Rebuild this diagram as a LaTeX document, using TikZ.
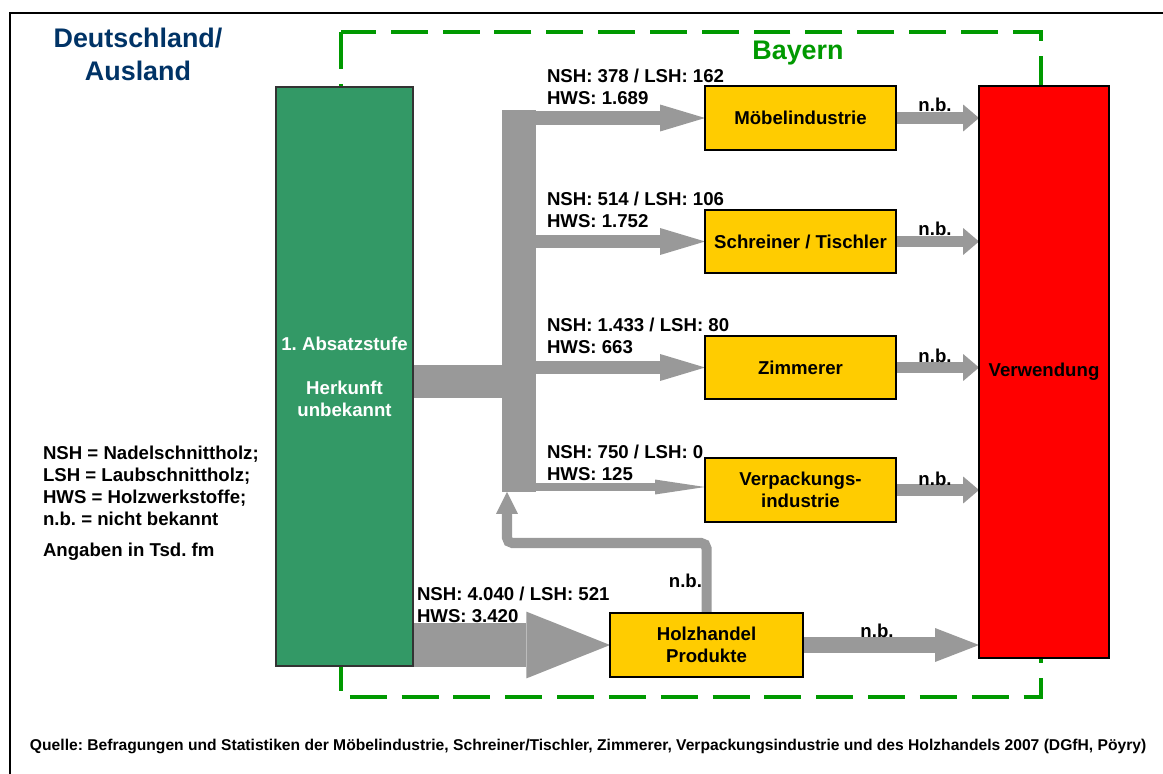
\documentclass[tikz,border=0pt]{standalone}
\usepackage{fontspec}
\setmainfont{Liberation Sans}
\usetikzlibrary{arrows.meta,calc}
\definecolor{arrowgray}{HTML}{999999}
\definecolor{boxyellow}{HTML}{FFCC00}
\definecolor{boxgreen}{HTML}{339966}
\definecolor{boxred}{HTML}{FF0000}
\definecolor{dashgreen}{HTML}{009900}
\definecolor{titlenavy}{HTML}{003366}
\pgfdeclarelayer{back}
\pgfsetlayers{back,main}
\tikzset{
  every node/.style={inner sep=0pt, outer sep=0pt},
  lbl/.style={font=\bfseries\fontsize{10.6}{12.5}\selectfont, align=left, text=black},
  box/.style={draw=black, line width=0.9pt, inner sep=0pt, align=center,
              font=\bfseries\fontsize{10.6}{12.5}\selectfont},
  ybox/.style={box, fill=boxyellow, minimum width=3.82cm, minimum height=1.27cm},
  flow/.style n args={3}{draw=arrowgray, line width=#1,
              -{Triangle[length=#3, width=#2, line width=0pt]}},
  bar/.style={draw=arrowgray, line width=#1},
}
\begin{document}
\frenchspacing
\begin{tikzpicture}[x=0.02cm, y=-0.02cm]
\useasboundingbox (0,0) rectangle (1163,774);
\clip (0,0) rectangle (1163,774);

% boxes
\node[box, fill=boxgreen, draw=black!80, line width=0.7pt, text=white,
      minimum width=2.74cm, minimum height=11.58cm] (herk) at (344.5,376.5)
      {1. Absatzstufe\\[12.5pt]Herkunft\\unbekannt};
\node[ybox] (moebel) at (800.5,118) {Möbelindustrie};
\node[ybox] (schrein) at (800.5,241.5) {Schreiner / Tischler};
\node[ybox] (zimm) at (800.5,367.5) {Zimmerer};
\node[ybox] (verp) at (800.5,490) {Verpackungs-\\industrie};
\node[ybox, minimum width=3.86cm] (holz) at (706.5,645) {Holzhandel\\Produkte};
\node[box, fill=boxred, minimum width=2.6cm, minimum height=11.44cm] (verw) at (1044,372) {Verwendung};

\coordinate (feedc) at (519,381.5);
\coordinate (retc) at (507,543);
\coordinate (verpin) at ($(verp.west)+(0,-3)$);

\begin{pgfonlayer}{back}
  \fill[white] (0,0) rectangle (1163,774);
  % outer frame (only top and left visible)
  \draw[line width=1.5pt] (10,800) -- (10,13) -- (1200,13);
  % Bayern region
  \draw[dashgreen, line width=2.3pt, dash pattern=on 21pt off 8.5pt] (341,32) rectangle (1041,697);
  % trunk
  \node[fill=arrowgray, minimum width=0.68cm, minimum height=7.64cm] (trunk) at (519,301) {};
  \draw[bar=18.7pt] (herk.east |- feedc) -- (feedc);
  % branches
  \draw[flow={8.5pt}{15.3pt}{25.5pt}] (trunk.east |- moebel.west) -- (moebel.west);
  \draw[flow={7.4pt}{15.3pt}{25.5pt}] (trunk.east |- schrein.west) -- (schrein.west);
  \draw[flow={7.9pt}{15.3pt}{25.5pt}] (trunk.east |- zimm.west) -- (zimm.west);
  \draw[flow={5.1pt}{8.5pt}{28.4pt}] (trunk.east |- verpin) -- (verpin);
  % Holzhandel
  \draw[flow={25pt}{38pt}{47.6pt}] (herk.east |- holz.west) -- (holz.west);
  \draw[flow={9.6pt}{19.3pt}{25pt}] (holz.east) -- (holz.east -| verw.west);
  \draw[flow={5.7pt}{12.5pt}{12.5pt}, rounded corners=3pt] (holz.north) |- (retc) -- (trunk.south -| retc);
  % n.b. arrows
  \draw[flow={6.8pt}{15.3pt}{9pt}] (moebel.east) -- (moebel.east -| verw.west);
  \draw[flow={6.8pt}{15.3pt}{9pt}] (schrein.east) -- (schrein.east -| verw.west);
  \draw[flow={6.8pt}{15.3pt}{9pt}] (zimm.east) -- (zimm.east -| verw.west);
  \draw[flow={6.8pt}{15.3pt}{9pt}] (verp.east) -- (verp.east -| verw.west);
\end{pgfonlayer}

% titles
\node[font=\bfseries\fontsize{15.3}{18.7}\selectfont, text=titlenavy, align=center] (title) at (138,54) {Deutschland/\\Ausland};
\node[font=\bfseries\fontsize{15.3}{18}\selectfont, text=dashgreen] (bayern) at (798,53) {Bayern};

% flow labels
\node[lbl, anchor=north west] (l1) at (547,69) {NSH: 378 / LSH: 162\\HWS: 1.689};
\node[lbl, anchor=north west] (l2) at (547,192) {NSH: 514 / LSH: 106\\HWS: 1.752};
\node[lbl, anchor=north west] (l3) at (547,318) {NSH: 1.433 / LSH: 80\\HWS: 663};
\node[lbl, anchor=north west] (l4) at (547,445) {NSH: 750 / LSH: 0\\HWS: 125};
\node[lbl, anchor=north west] (l5) at (417,587) {NSH: 4.040 / LSH: 521\\HWS: 3.420};

% n.b. labels
\node[lbl, anchor=base] (nb1) at (935,111) {n.b.};
\node[lbl, anchor=base] (nb2) at (935,235) {n.b.};
\node[lbl, anchor=base] (nb3) at (935,362) {n.b.};
\node[lbl, anchor=base] (nb4) at (935,485) {n.b.};
\node[lbl, anchor=base] (nb5) at (877,637) {n.b.};
\node[lbl, anchor=base east] (nb6) at (702,587) {n.b.};

% legend
\node[lbl, anchor=north west] (leg) at (43,446) {NSH = Nadelschnittholz;\\LSH = Laubschnittholz;\\HWS = Holzwerkstoffe;\\n.b. = nicht bekannt};
\node[lbl, anchor=north west] (unit) at (43,543) {Angaben in Tsd. fm};

% source
\node[font=\bfseries\fontsize{8.9}{10}\selectfont, anchor=west] (src) at (30,746) {Quelle: Befragungen und Statistiken der Möbelindustrie, Schreiner/Tischler, Zimmerer, Verpackungsindustrie und des Holzhandels 2007 (DGfH, Pöyry)};
\end{tikzpicture}
\end{document}
